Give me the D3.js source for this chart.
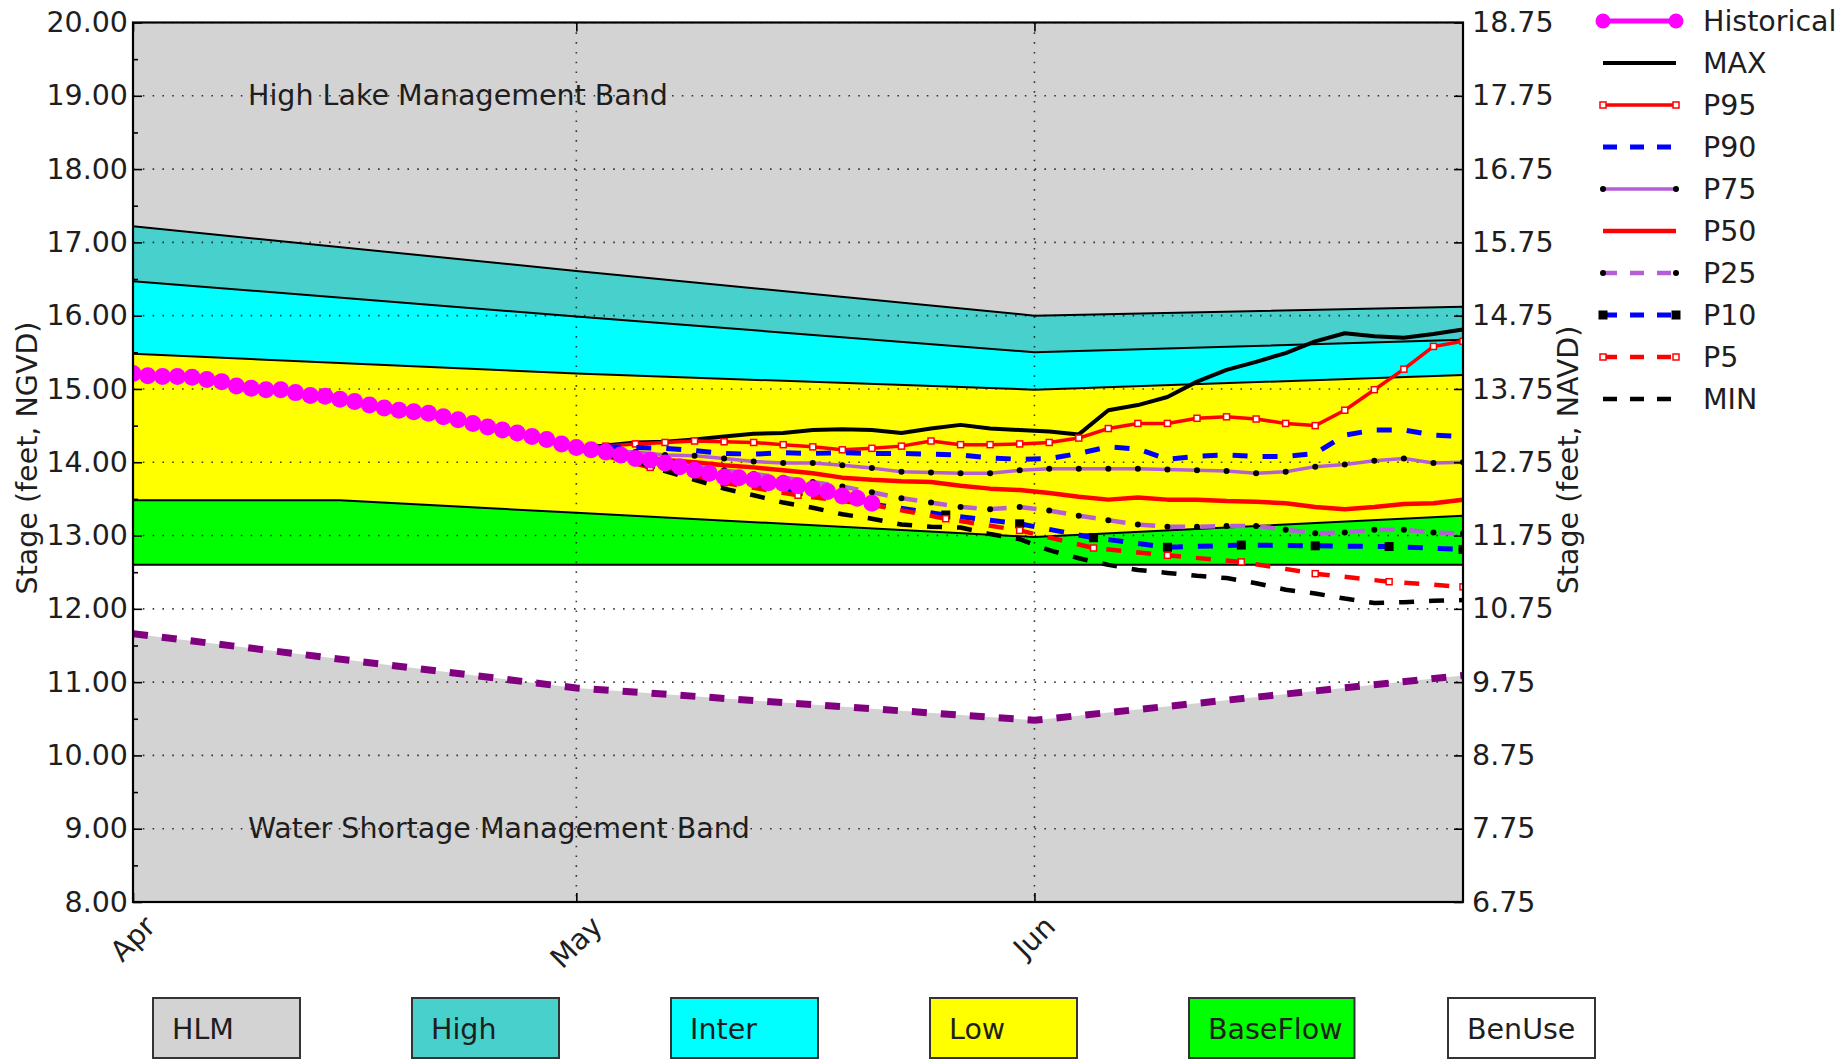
<!DOCTYPE html>
<html><head><meta charset="utf-8">
<script src="https://cdn.jsdelivr.net/npm/d3@7"></script>
<style>
body{margin:0;background:#fff;}
svg{display:block;font-family:"DejaVu Sans",sans-serif;}
</style>
</head><body>
<svg id="chart" width="1848" height="1060"></svg>
<script>
// ---------------- DATA ----------------
// days counted from Apr 1
const bandDays      = [0, 30, 61, 90];
const hlmLine       = [17.22, 16.61, 16.00, 16.12];   // top of High band
const highLine      = [16.47, 15.99, 15.50, 15.67];   // top of Inter band
const interLine     = [15.48, 15.21, 14.99, 15.19];   // top of Low band
const lowDays       = [0, 14, 30, 61, 90];
const lowLine       = [13.48, 13.48, 13.31, 12.98, 13.27]; // top of BaseFlow band
const baseFlowDays  = [0, 90];
const baseFlowLine  = [12.6, 12.6];                   // bottom of BaseFlow band
const wsmDays       = [0, 30, 61, 90];
const wsmLine       = [11.66, 10.92, 10.48, 11.09];   // top of Water Shortage band

const histDays = [0,1,2,3,4,5,6,7,8,9,10,11,12,13,14,15,16,17,18,19,20,21,22,23,24,25,26,27,28,29,30,31,32,33,34,35,36,37,38,39,40,41,42,43,44,45,46,47,48,49,50];
const histValues = [15.21,15.18,15.17,15.17,15.16,15.13,15.10,15.04,15.01,14.99,
  14.99,14.95,14.91,14.90,14.86,14.83,14.78,14.74,14.71,14.69,
  14.67,14.62,14.58,14.53,14.48,14.44,14.40,14.35,14.31,14.25,
  14.20,14.17,14.14,14.10,14.05,14.03,13.99,13.94,13.89,13.85,
  13.80,13.79,13.76,13.72,13.71,13.68,13.64,13.60,13.54,13.51,13.44];

const fcDays = [30,32,34,36,38,40,42,44,46,48,50,52,54,56,58,60,62,64,66,68,70,72,74,76,78,80,82,84,86,88,90];
const maxVals = [14.19,14.23,14.27,14.28,14.31,14.35,14.39,14.40,14.44,14.45,14.44,14.40,14.46,14.51,14.46,14.44,14.42,14.38,14.71,14.78,14.89,15.10,15.26,15.37,15.49,15.65,15.76,15.72,15.70,15.75,15.81];
const p95Vals = [14.19,14.22,14.25,14.27,14.29,14.28,14.27,14.24,14.21,14.17,14.19,14.22,14.29,14.24,14.24,14.25,14.27,14.33,14.46,14.53,14.53,14.60,14.62,14.59,14.53,14.50,14.71,14.99,15.27,15.58,15.65];
const p90Vals = [14.19,14.21,14.20,14.19,14.16,14.12,14.11,14.13,14.12,14.13,14.12,14.12,14.11,14.10,14.06,14.04,14.05,14.12,14.21,14.18,14.04,14.08,14.10,14.08,14.08,14.12,14.37,14.44,14.44,14.37,14.35];
const p75Vals = [14.19,14.16,14.14,14.10,14.09,14.05,14.01,13.99,13.99,13.96,13.92,13.87,13.86,13.85,13.85,13.89,13.91,13.91,13.91,13.91,13.90,13.89,13.88,13.85,13.87,13.94,13.97,14.02,14.05,13.99,14.00];
const p50Vals = [14.19,14.14,14.09,14.03,14.00,13.96,13.93,13.89,13.85,13.79,13.76,13.74,13.73,13.68,13.64,13.62,13.58,13.53,13.49,13.52,13.49,13.49,13.47,13.46,13.44,13.39,13.36,13.39,13.43,13.44,13.49];
const p25Vals = [14.19,14.13,14.06,13.99,13.94,13.89,13.84,13.79,13.73,13.67,13.59,13.51,13.45,13.39,13.36,13.39,13.34,13.27,13.21,13.15,13.12,13.12,13.13,13.13,13.08,13.03,13.04,13.08,13.08,13.04,13.03];
const minVals = [14.19,14.10,14.01,13.88,13.76,13.64,13.55,13.45,13.38,13.29,13.23,13.15,13.12,13.11,13.02,12.95,12.80,12.69,12.60,12.53,12.49,12.45,12.42,12.35,12.26,12.21,12.14,12.08,12.09,12.11,12.12];
const fiveDays = [30,35,40,45,50,55,60,65,70,75,80,85,90];
const p10Vals = [14.19,13.97,13.78,13.60,13.43,13.28,13.16,12.97,12.84,12.87,12.86,12.85,12.81];
const p5Vals  = [14.19,13.93,13.72,13.55,13.42,13.23,13.07,12.83,12.73,12.64,12.48,12.37,12.30];

const leftTicks  = [8,9,10,11,12,13,14,15,16,17,18,19,20];
const leftMinor  = [8.5,9.5,10.5,11.5,12.5,13.5,14.5,15.5,16.5,17.5,18.5,19.5];
const rightTicks = [6.75,7.75,8.75,9.75,10.75,11.75,12.75,13.75,14.75,15.75,16.75,17.75,18.75];
const monthTickDays   = [0, 30, 61];
const monthTickLabels = ["Apr", "May", "Jun"];

const bandNames  = ["HLM", "High", "Inter", "Low", "BaseFlow", "BenUse"];
const bandColors = ["#d3d3d3", "#48d1cc", "#00ffff", "#ffff00", "#00ff00", "#ffffff"];

// ---------------- LAYOUT ----------------
const M = {left:133, right:1463, top:22.5, bottom:902};
const FS = 28.5;
const TXT = "#1e1e1e";
const svg = d3.select("#chart");
const t0 = new Date(2017, 3, 1);
const dd = d => d3.timeDay.offset(t0, d);
const x = d3.scaleTime().domain([t0, dd(90)]).range([M.left, M.right]);
const y = d3.scaleLinear().domain([8, 20]).range([M.bottom, M.top]);
const y2 = d3.scaleLinear().domain([6.75, 18.75]).range([M.bottom, M.top]);

svg.append("defs").append("clipPath").attr("id","clip")
  .append("rect").attr("x",M.left).attr("y",M.top)
  .attr("width",M.right-M.left).attr("height",M.bottom-M.top);

const plot = svg.append("g").attr("clip-path","url(#clip)");
plot.append("rect").attr("x",M.left).attr("y",M.top)
  .attr("width",M.right-M.left).attr("height",M.bottom-M.top).attr("fill","#d3d3d3");

const zip = (days, vals) => days.map((d,i)=>({d, v:vals[i]}));
const areaBelow = d3.area().x(p=>x(dd(p.d))).y0(y(8)).y1(p=>y(p.v));
const lineGen = d3.line().x(p=>x(dd(p.d))).y(p=>y(p.v));

[[bandDays,hlmLine,"#48d1cc"],[bandDays,highLine,"#00ffff"],[bandDays,interLine,"#ffff00"],
 [lowDays,lowLine,"#00ff00"],[baseFlowDays,baseFlowLine,"#ffffff"],[wsmDays,wsmLine,"#d3d3d3"]]
 .forEach(([ds,vs,c]) => plot.append("path").datum(zip(ds,vs)).attr("d",areaBelow).attr("fill",c));

// gridlines
const grid = plot.append("g");
leftTicks.forEach(v => grid.append("line").attr("x1",M.left).attr("x2",M.right)
  .attr("y1",y(v)).attr("y2",y(v)).attr("stroke","#000").attr("stroke-width",1.6)
  .attr("stroke-dasharray","1.6,8.2").attr("opacity",0.75));
monthTickDays.slice(1).forEach(d => grid.append("line").attr("y1",M.top).attr("y2",M.bottom)
  .attr("x1",x(dd(d))).attr("x2",x(dd(d))).attr("stroke","#000").attr("stroke-width",1.6)
  .attr("stroke-dasharray","1.6,8.2").attr("opacity",0.75));

// band boundary lines
[[bandDays,hlmLine],[bandDays,highLine],[bandDays,interLine],[lowDays,lowLine],[baseFlowDays,baseFlowLine]]
 .forEach(([ds,vs]) => plot.append("path").datum(zip(ds,vs)).attr("d",lineGen)
   .attr("fill","none").attr("stroke","#000").attr("stroke-width",2));
plot.append("path").datum(zip(wsmDays,wsmLine)).attr("d",lineGen).attr("fill","none")
  .attr("stroke","#800080").attr("stroke-width",7).attr("stroke-dasharray","15,14");

// band labels
svg.append("text").attr("x",248).attr("y",y(19)).attr("dominant-baseline","central")
  .attr("font-size",FS).attr("fill",TXT).text("High Lake Management Band");
svg.append("text").attr("x",248).attr("y",y(9)).attr("dominant-baseline","central")
  .attr("font-size",FS).attr("fill",TXT).text("Water Shortage Management Band");

// forecast series
const series = [
  {name:"MAX", days:fcDays, vals:maxVals, color:"#000", w:4, dash:null, marker:null},
  {name:"P95", days:fcDays, vals:p95Vals, color:"#ff0000", w:3.5, dash:null, marker:"osq"},
  {name:"P90", days:fcDays, vals:p90Vals, color:"#0000ff", w:5, dash:"15,15", marker:null},
  {name:"P75", days:fcDays, vals:p75Vals, color:"#b45fd6", w:3.5, dash:null, marker:"dot"},
  {name:"P50", days:fcDays, vals:p50Vals, color:"#ff0000", w:4.5, dash:null, marker:null},
  {name:"P25", days:fcDays, vals:p25Vals, color:"#b45fd6", w:4.5, dash:"15,15", marker:"dot"},
  {name:"P10", days:fiveDays, vals:p10Vals, color:"#0000ff", w:5, dash:"15,15", marker:"bsq"},
  {name:"P5",  days:fiveDays, vals:p5Vals,  color:"#ff0000", w:4.5, dash:"15,15", marker:"osq"},
  {name:"MIN", days:fcDays, vals:minVals, color:"#000", w:4.5, dash:"15,15", marker:null}
];
function drawMarker(g, kind, cx, cy, color){
  if(kind==="dot") g.append("circle").attr("cx",cx).attr("cy",cy).attr("r",3).attr("fill","#000");
  else if(kind==="bsq") g.append("rect").attr("x",cx-4.5).attr("y",cy-4.5).attr("width",9).attr("height",9).attr("fill","#000");
  else if(kind==="osq") g.append("rect").attr("x",cx-3).attr("y",cy-3).attr("width",6).attr("height",6)
     .attr("fill","#fff").attr("stroke",color).attr("stroke-width",1.5);
}
series.forEach(s => {
  const pts = zip(s.days, s.vals);
  const g = plot.append("g");
  g.append("path").datum(pts).attr("d",lineGen).attr("fill","none").attr("stroke",s.color)
    .attr("stroke-width",s.w).attr("stroke-dasharray",s.dash).attr("stroke-linejoin","round");
  if(s.marker) pts.forEach(p => drawMarker(g, s.marker, x(dd(p.d)), y(p.v), s.color));
});

// historical
const hist = zip(histDays, histValues);
plot.append("path").datum(hist).attr("d",lineGen).attr("fill","none").attr("stroke","#ff00ff").attr("stroke-width",5);
plot.append("g").selectAll("circle").data(hist).join("circle")
  .attr("cx",p=>x(dd(p.d))).attr("cy",p=>y(p.v)).attr("r",8.5).attr("fill","#ff00ff");

// frame
svg.append("rect").attr("x",M.left).attr("y",M.top).attr("width",M.right-M.left)
  .attr("height",M.bottom-M.top).attr("fill","none").attr("stroke","#000").attr("stroke-width",2.2);

// axes
const fmt = d3.format(".2f");
svg.append("g").attr("transform",`translate(${M.left},0)`)
  .call(d3.axisLeft(y).tickValues(leftTicks).tickFormat(fmt).tickSize(-9).tickPadding(5));
svg.append("g").attr("transform",`translate(${M.left},0)`)
  .call(d3.axisLeft(y).tickValues(leftMinor).tickFormat("").tickSize(-5));
svg.append("g").attr("transform",`translate(${M.right},0)`)
  .call(d3.axisRight(y2).tickValues(rightTicks).tickFormat(fmt).tickSize(-9).tickPadding(9));
svg.append("g").attr("transform",`translate(0,${M.bottom})`)
  .call(d3.axisBottom(x).tickValues(monthTickDays.map(dd)).tickFormat("").tickSize(-9));
svg.append("g").attr("transform",`translate(0,${M.top})`)
  .call(d3.axisTop(x).tickValues(monthTickDays.map(dd)).tickFormat("").tickSize(-9));
svg.selectAll(".domain").remove();
svg.selectAll(".tick line").attr("stroke","#000").attr("stroke-width",1.6);
svg.selectAll(".tick text").attr("font-size",FS).attr("fill",TXT).attr("font-family","DejaVu Sans");

// x tick labels, rotated 45
monthTickDays.forEach((d,i) => {
  const t = svg.append("text").attr("font-size",FS).attr("fill",TXT).text(monthTickLabels[i]);
  const w = t.node().getComputedTextLength();
  const h = FS*0.95;
  const side = (w + h) * Math.SQRT1_2;
  t.attr("text-anchor","middle").attr("dominant-baseline","central")
   .attr("transform",`translate(${x(dd(d))},${912 + side/2}) rotate(-45)`);
});

// y labels
svg.append("text").attr("transform","translate(27,458) rotate(-90)").attr("text-anchor","middle")
  .attr("dominant-baseline","central").attr("font-size",FS).attr("fill",TXT).text("Stage (feet, NGVD)");
svg.append("text").attr("transform","translate(1568,460) rotate(-90)").attr("text-anchor","middle")
  .attr("dominant-baseline","central").attr("font-size",FS).attr("fill",TXT).text("Stage (feet, NAVD)");

// right legend
const leg = svg.append("g");
const legItems = [{name:"Historical", color:"#ff00ff", w:5, dash:null, marker:"hist"}].concat(series);
legItems.forEach((s,i) => {
  const yy = 21 + i*42;
  const x1 = 1603, x2 = 1676;
  leg.append("line").attr("x1",x1).attr("x2",x2).attr("y1",yy).attr("y2",yy)
    .attr("stroke",s.color).attr("stroke-width",s.w).attr("stroke-dasharray",s.dash ? "14,13" : null);
  if(s.marker==="hist"){
    [x1,x2].forEach(cx => leg.append("circle").attr("cx",cx).attr("cy",yy).attr("r",7.5).attr("fill","#ff00ff"));
  } else if(s.marker){
    [x1,x2].forEach(cx => drawMarker(leg, s.marker, cx, yy, s.color));
  }
  leg.append("text").attr("x",1703).attr("y",yy).attr("dominant-baseline","central")
    .attr("font-size",FS).attr("fill",TXT).text(s.name);
});

// bottom band legend boxes
bandNames.forEach((n,i) => {
  const bx = 153 + i*259;
  const g = svg.append("g");
  const r = g.append("rect").attr("x",bx).attr("y",998).attr("height",60)
    .attr("fill",bandColors[i]).attr("stroke","#333").attr("stroke-width",2);
  const t = g.append("text").attr("x",bx+19).attr("y",1029).attr("dominant-baseline","central")
    .attr("font-size",FS).attr("fill",TXT).text(n);
  const tw = t.node().getComputedTextLength();
  r.attr("width", Math.max(147, tw + 31));
});
</script>
</body></html>
